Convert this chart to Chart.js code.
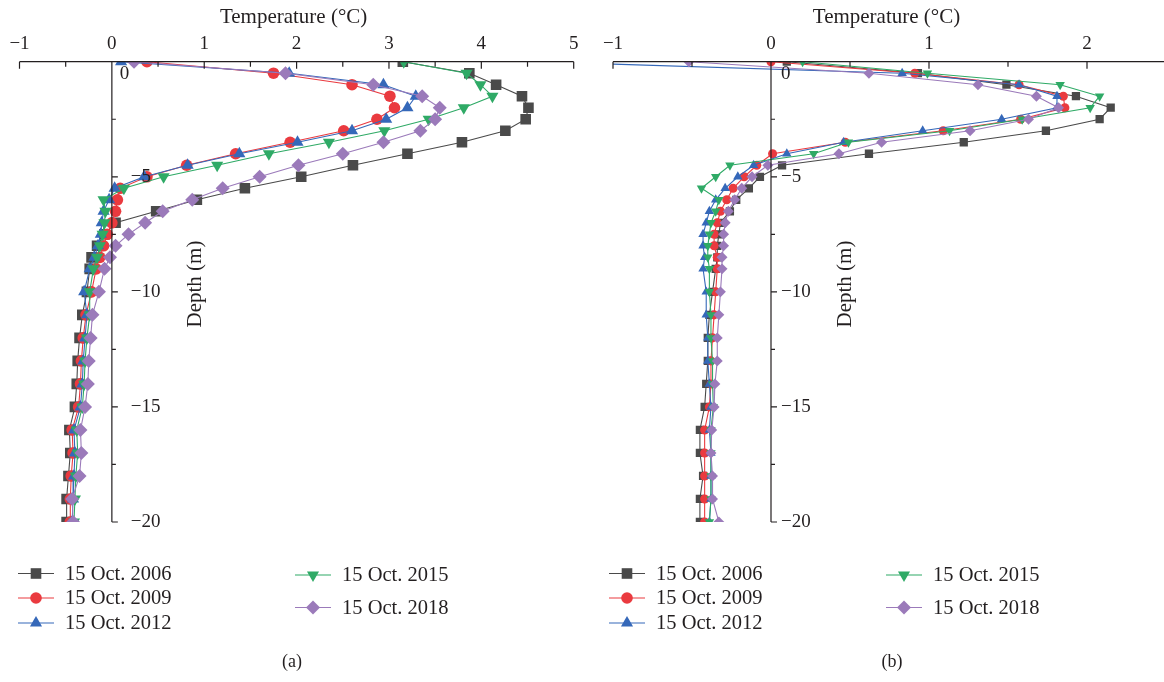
<!DOCTYPE html>
<html>
<head>
<meta charset="utf-8">
<title>Ground temperature profiles</title>
<script src="https://cdn.jsdelivr.net/npm/chart.js@4/dist/chart.umd.min.js"></script>
<style>
  html, body { margin: 0; padding: 0; background: #fff; width: 1164px; height: 682px; overflow: hidden; }
  .panel { position: absolute; top: 0; }
  #panelA { left: 0; }
  #panelB { left: 591px; }
</style>
</head>
<body>
<div class="panel" id="panelA"><canvas id="chartA" width="591" height="682"></canvas></div>
<div class="panel" id="panelB"><canvas id="chartB" width="600" height="682"></canvas></div>
<script>
// Depth of each reading (m), shared by every profile
const depths = [0, -0.5, -1, -1.5, -2, -2.5, -3, -3.5, -4, -4.5, -5, -5.5, -6, -6.5, -7, -7.5, -8, -8.5, -9,
  -10, -11, -12, -13, -14, -15, -16, -17, -18, -19, -20];

const seriesLabels = ['15 Oct. 2006', '15 Oct. 2009', '15 Oct. 2012', '15 Oct. 2015', '15 Oct. 2018'];

// Panel (a) temperatures (°C)
const tempA2006 = [3.15, 3.87, 4.16, 4.44, 4.51, 4.48, 4.26, 3.79, 3.20, 2.61, 2.05, 1.44, 0.92, 0.48, 0.04, -0.08, -0.16, -0.22, -0.24,
  -0.27, -0.32, -0.35, -0.37, -0.38, -0.40, -0.46, -0.45, -0.47, -0.49, -0.49];
const tempA2009 = [0.38, 1.75, 2.60, 3.01, 3.06, 2.87, 2.51, 1.93, 1.34, 0.81, 0.38, 0.09, 0.06, 0.04, 0.00, -0.05, -0.09, -0.13, -0.17,
  -0.22, -0.28, -0.31, -0.33, -0.34, -0.36, -0.43, -0.42, -0.44, -0.45, -0.45];
const tempA2012 = [0.10, 1.92, 2.94, 3.29, 3.20, 2.97, 2.60, 2.01, 1.38, 0.82, 0.35, 0.03, -0.03, -0.09, -0.11, -0.12, -0.15, -0.19, -0.24,
  -0.30, -0.27, -0.29, -0.31, -0.32, -0.34, -0.41, -0.40, -0.41, -0.42, -0.43];
const tempA2015 = [3.16, 3.84, 3.99, 4.12, 3.81, 3.43, 2.95, 2.35, 1.70, 1.14, 0.56, 0.13, -0.09, -0.07, -0.08, -0.10, -0.13, -0.16, -0.20,
  -0.24, -0.24, -0.27, -0.29, -0.30, -0.32, -0.38, -0.37, -0.39, -0.40, -0.41];
const tempA2018 = [0.24, 1.88, 2.83, 3.36, 3.55, 3.50, 3.34, 2.94, 2.50, 2.02, 1.60, 1.20, 0.87, 0.55, 0.36, 0.18, 0.04, -0.02, -0.08,
  -0.14, -0.21, -0.23, -0.25, -0.26, -0.29, -0.34, -0.33, -0.35, -0.43, -0.42];

// Panel (b) temperatures (°C)
const tempB2006 = [0.10, 0.93, 1.49, 1.93, 2.15, 2.08, 1.74, 1.22, 0.62, 0.07, -0.07, -0.14, -0.22, -0.26, -0.32, -0.33, -0.34, -0.34, -0.35,
  -0.37, -0.39, -0.40, -0.40, -0.41, -0.42, -0.45, -0.45, -0.43, -0.45, -0.45];
const tempB2009 = [0.00, 0.91, 1.57, 1.85, 1.86, 1.58, 1.09, 0.47, 0.01, -0.09, -0.17, -0.24, -0.28, -0.32, -0.34, -0.36, -0.36, -0.34, -0.34,
  -0.35, -0.36, -0.37, -0.38, -0.38, -0.39, -0.42, -0.42, -0.42, -0.42, -0.42];
const tempB2012 = [-1.50, 0.83, 1.57, 1.81, 1.81, 1.46, 0.96, 0.46, 0.10, -0.11, -0.21, -0.29, -0.35, -0.39, -0.41, -0.43, -0.43, -0.42, -0.43,
  -0.41, -0.41, -0.40, -0.40, -0.39, -0.38, -0.39, -0.38, -0.38, -0.38, -0.39];
const tempB2015 = [0.20, 0.99, 1.83, 2.08, 2.02, 1.59, 1.13, 0.49, 0.27, -0.26, -0.35, -0.44, -0.33, -0.35, -0.38, -0.39, -0.40, -0.40, -0.39,
  -0.39, -0.38, -0.38, -0.37, -0.37, -0.365, -0.38, -0.38, -0.38, -0.38, -0.39];
const tempB2018 = [-0.52, 0.62, 1.31, 1.68, 1.82, 1.63, 1.26, 0.70, 0.43, -0.02, -0.12, -0.185, -0.23, -0.27, -0.29, -0.30, -0.30, -0.31, -0.31,
  -0.32, -0.33, -0.34, -0.34, -0.355, -0.36, -0.375, -0.38, -0.37, -0.37, -0.33];

// Axis tick labels
const tempTicksA = [-1, 0, 1, 2, 3, 4, 5];
const tempTicksB = [-1, 0, 1, 2];
const depthTicks = [0, -5, -10, -15, -20];

const INK = '#231f20';
const FONT = '"Liberation Serif", "DejaVu Serif", serif';

// marker look per year: colour, point style, rotation, radius
const styles = [
  { color: '#4a4a4a', shape: 'rect', rotation: 0, radius: 7.5 },
  { color: '#ea3a3f', shape: 'circle', rotation: 0, radius: 5.8 },
  { color: '#3568b9', shape: 'triangle', rotation: 0, radius: 7 },
  { color: '#2faa66', shape: 'triangle', rotation: 180, radius: 7 },
  { color: '#9b7aba', shape: 'rectRot', rotation: 0, radius: 7 }
];

function makeSets(seriesValues, scale) {
  return seriesValues.map((values, i) => {
    const s = styles[i];
    return {
      label: seriesLabels[i],
      data: depths.map((d, k) => ({ x: values[k], y: d })),
      showLine: true,
      order: 5 - i,
      borderColor: s.color,
      backgroundColor: s.color,
      borderWidth: 1.1,
      pointStyle: s.shape,
      pointRotation: s.rotation,
      pointRadius: s.radius * scale,
      pointHoverRadius: s.radius * scale,
      pointBorderWidth: 0,
      pointBackgroundColor: s.color,
      pointBorderColor: s.color
    };
  });
}

function fmt(v) {
  return v < 0 ? '\u2212' + Math.abs(v) : String(v);
}

// top temperature axis, depth axis through T = 0, titles, legend, caption
const profileFrame = {
  id: 'profileFrame',
  afterDatasetsDraw(chart, args, opts) {
    const { ctx, chartArea: area } = chart;
    const xs = chart.scales.x;
    const ys = chart.scales.y;
    ctx.save();
    ctx.strokeStyle = INK;
    ctx.fillStyle = INK;
    ctx.lineWidth = 1.2;

    ctx.beginPath();
    ctx.moveTo(area.left, area.top);
    ctx.lineTo(area.right, area.top);
    for (let t = xs.min; t <= xs.max + 1e-6; t += 0.5) {
      const px = xs.getPixelForValue(t);
      ctx.moveTo(px, area.top);
      ctx.lineTo(px, area.top + (Number.isInteger(t) ? 7 : 5));
    }
    const x0 = xs.getPixelForValue(0);
    ctx.moveTo(x0, area.top);
    ctx.lineTo(x0, area.bottom);
    for (let d = ys.max; d >= ys.min - 1e-6; d -= 2.5) {
      const py = ys.getPixelForValue(d);
      ctx.moveTo(x0, py);
      ctx.lineTo(x0 + (d % 5 === 0 ? 6 : 4), py);
    }
    ctx.stroke();

    ctx.font = '19px ' + FONT;
    ctx.textAlign = 'center';
    ctx.textBaseline = 'middle';
    opts.tempTicks.forEach(t => {
      ctx.fillText(fmt(t), xs.getPixelForValue(t), area.top - 18);
    });

    ctx.textAlign = 'left';
    depthTicks.forEach(d => {
      if (d === 0) {
        ctx.fillText('0', x0 + opts.zeroDx, area.top + 12);
      } else {
        ctx.fillText(fmt(d), x0 + opts.labelDx, ys.getPixelForValue(d));
      }
    });

    ctx.font = '21px ' + FONT;
    ctx.textAlign = 'center';
    ctx.fillText('Temperature (\u00B0C)', (area.left + area.right) / 2 - 3, 17);

    ctx.save();
    ctx.translate(opts.depthTitleX, 284);
    ctx.rotate(-Math.PI / 2);
    ctx.fillText('Depth (m)', 0, 0);
    ctx.restore();

    ctx.restore();
  },
  afterDraw(chart, args, opts) {
    const { ctx } = chart;
    ctx.save();
    const slots = [
      { x: 18, y: 573.5 }, { x: 18, y: 598 }, { x: 18, y: 623 },
      { x: 295, y: 575 }, { x: 295, y: 607.5 }
    ];
    ctx.font = '20.5px ' + FONT;
    ctx.textAlign = 'left';
    ctx.textBaseline = 'middle';
    slots.forEach((p, i) => {
      const s = styles[i];
      ctx.strokeStyle = s.color;
      ctx.lineWidth = 1.2;
      ctx.beginPath();
      ctx.moveTo(p.x, p.y);
      ctx.lineTo(p.x + 36, p.y);
      ctx.stroke();
      ctx.fillStyle = s.color;
      Chart.helpers.drawPoint(ctx, {
        pointStyle: s.shape, rotation: s.rotation, radius: s.radius, borderWidth: 0
      }, p.x + 18, p.y);
      ctx.fillStyle = INK;
      ctx.fillText(seriesLabels[i], p.x + 47, p.y + 1);
    });
    ctx.font = '18px ' + FONT;
    ctx.textAlign = 'center';
    ctx.fillText(opts.caption, opts.captionX, 662);
    ctx.restore();
  }
};

function buildChart(canvasId, seriesValues, xMax, markerScale, pad, frameOpts) {
  return new Chart(document.getElementById(canvasId), {
    type: 'scatter',
    data: { datasets: makeSets(seriesValues, markerScale) },
    options: {
      responsive: false,
      animation: false,
      devicePixelRatio: 1,
      layout: { padding: pad },
      scales: {
        x: { type: 'linear', min: -1, max: xMax, display: false },
        y: { type: 'linear', min: -20, max: 0, display: false }
      },
      plugins: {
        legend: { display: false },
        tooltip: { enabled: false },
        profileFrame: frameOpts
      }
    },
    plugins: [profileFrame]
  });
}

buildChart('chartA', [tempA2006, tempA2009, tempA2012, tempA2015, tempA2018], 5, 1,
  { left: 19.5, right: 17.3, top: 61.7, bottom: 160 },
  { tempTicks: tempTicksA, labelDx: 19, zeroDx: 8, depthTitleX: 195, caption: '(a)', captionX: 292 });

buildChart('chartB', [tempB2006, tempB2009, tempB2012, tempB2015, tempB2018], 2.5, 0.78,
  { left: 22, right: 25, top: 61.7, bottom: 160 },
  { tempTicks: tempTicksB, labelDx: 10, zeroDx: 10, depthTitleX: 254, caption: '(b)', captionX: 301 });
</script>
</body>
</html>
